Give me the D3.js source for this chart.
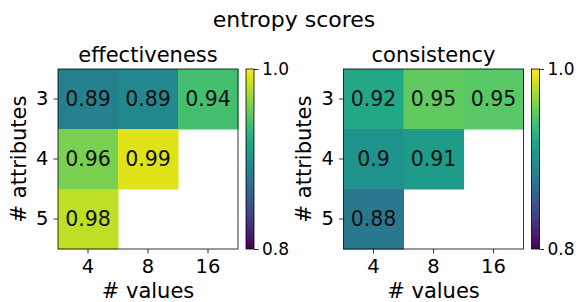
<!DOCTYPE html>
<html>
<head>
<meta charset="utf-8">
<script src="https://cdn.jsdelivr.net/npm/d3@7"></script>
<style>
  body { margin: 0; background: #fff; }
  svg { display: block; font-family: "DejaVu Sans", sans-serif; }
</style>
</head>
<body>
<script>
// data
const numValues = ["4", "8", "16"];
const numAttributes = ["3", "4", "5"];
// rows = attributes 3,4,5 ; cols = values 4,8,16 ; null = no cell
const effectiveness = [
  [0.887, 0.893, 0.94],
  [0.96, 0.99, null],
  [0.98, null, null]
];
const consistency = [
  [0.92, 0.951, 0.948],
  [0.902, 0.91, null],
  [0.88, null, null]
];
const colorTicks = [0.8, 1.0];

const W = 579, H = 302;
const size = 180;

const svg = d3.select("body").append("svg")
  .attr("width", W)
  .attr("height", H)
  .attr("xmlns", "http://www.w3.org/2000/svg");

const color = d3.scaleSequential(d3.interpolateViridis).domain([0.8, 1.0]);

// vertical gradient for the colorbars (bottom = 0.8, top = 1.0)
const grad = svg.append("defs").append("linearGradient")
  .attr("id", "viridis")
  .attr("x1", 0).attr("y1", 1).attr("x2", 0).attr("y2", 0);
grad.selectAll("stop")
  .data(d3.range(0, 1.0001, 0.05))
  .enter()
  .append("stop")
  .attr("offset", function (t) { return t; })
  .attr("stop-color", function (t) { return d3.interpolateViridis(t); });

svg.append("text")
  .attr("x", 294)
  .attr("y", 27)
  .attr("text-anchor", "middle")
  .style("font-size", "22px")
  .text("entropy scores");

function styleAxis(a, fs) {
  a.attr("font-family", null).attr("font-size", null);
  a.select(".domain").remove();
  a.selectAll("line").attr("stroke-width", 0.8);
  a.selectAll("text").style("font-size", fs).style("fill", "#000");
}

function panel(left, title, matrix, ylabX) {
  const top = 69;
  const g = svg.append("g").attr("transform", "translate(" + left + "," + top + ")");

  const x = d3.scaleBand().domain(numValues).range([0, size]);
  const y = d3.scaleBand().domain(numAttributes).range([0, size]);

  const cells = [];
  matrix.forEach(function (row, i) {
    row.forEach(function (v, j) {
      if (v !== null) cells.push({ a: numAttributes[i], n: numValues[j], v: v });
    });
  });

  g.selectAll("rect.cell")
    .data(cells)
    .enter()
    .append("rect")
    .attr("class", "cell")
    .attr("x", function (d) { return x(d.n); })
    .attr("y", function (d) { return y(d.a); })
    .attr("width", x.bandwidth() + 0.5)
    .attr("height", y.bandwidth() + 0.5)
    .attr("fill", function (d) { return color(d.v); });

  g.selectAll("text.val")
    .data(cells)
    .enter()
    .append("text")
    .attr("class", "val")
    .attr("x", function (d) { return x(d.n) + x.bandwidth() / 2; })
    .attr("y", function (d) { return y(d.a) + y.bandwidth() / 2; })
    .attr("text-anchor", "middle")
    .attr("dy", "0.36em")
    .style("font-size", "20.5px")
    .style("fill", "#111")
    .text(function (d) { return String(Math.round(d.v * 100) / 100); });

  // frame
  g.append("rect")
    .attr("width", size)
    .attr("height", size)
    .attr("fill", "none")
    .attr("stroke", "#000")
    .attr("stroke-width", 0.8);

  // axes
  const xAxis = g.append("g")
    .attr("transform", "translate(0," + size + ")")
    .call(d3.axisBottom(x).tickSize(4.5).tickPadding(5.5));
  const yAxis = g.append("g")
    .call(d3.axisLeft(y).tickSize(4.5).tickPadding(5));
  styleAxis(xAxis, "19.5px");
  styleAxis(yAxis, "19.5px");

  g.append("text")
    .attr("x", size / 2)
    .attr("y", -7)
    .attr("text-anchor", "middle")
    .style("font-size", "21px")
    .text(title);

  g.append("text")
    .attr("x", size / 2)
    .attr("y", 229)
    .attr("text-anchor", "middle")
    .style("font-size", "21px")
    .text("# values");

  svg.append("text")
    .attr("transform", "translate(" + ylabX + "," + (top + size / 2) + ") rotate(-90)")
    .attr("text-anchor", "middle")
    .style("font-size", "21px")
    .text("# attributes");

  // colorbar
  const cbX = size + 8, cbW = 8;
  const cb = g.append("g").attr("transform", "translate(" + cbX + ",0)");
  const cs = d3.scaleLinear().domain([0.8, 1.0]).range([size, 0]);
  cb.append("rect")
    .attr("y", cs(1.0))
    .attr("width", cbW)
    .attr("height", cs(0.8) - cs(1.0))
    .attr("fill", "url(#viridis)")
    .attr("stroke", "#000")
    .attr("stroke-width", 0.8);
  const cbAxis = cb.append("g")
    .attr("transform", "translate(" + cbW + ",0)")
    .call(d3.axisRight(cs).tickValues(colorTicks).tickFormat(d3.format(".1f")).tickSize(4.5).tickPadding(3.5));
  styleAxis(cbAxis, "17px");
}

panel(58, "effectiveness", effectiveness, 26);
panel(343.5, "consistency", consistency, 311);
</script>
</body>
</html>
